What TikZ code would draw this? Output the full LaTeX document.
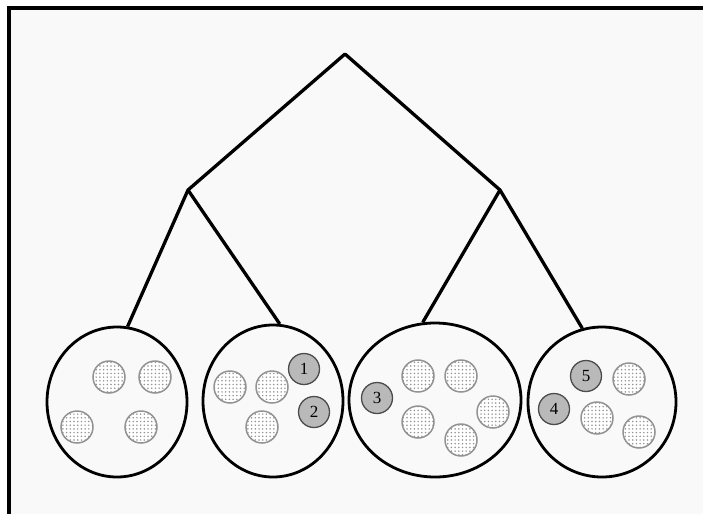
\documentclass[tikz,border=0pt]{standalone}
\usepackage{fontspec}
\setmainfont{Liberation Serif}
\usetikzlibrary{shapes.geometric,patterns.meta}

\tikzset{
  branch/.style={line width=3.3pt,line join=round},
  bucket/.style={ellipse,draw,line width=2.8pt,inner sep=0pt},
  item/.style={circle,draw=gray!85,line width=1.5pt,minimum size=32pt,inner sep=0pt,
    preaction={fill=white},pattern={Dots[radius=0.85pt,distance=3.7pt]},pattern color=gray!85},
  hit/.style={circle,draw=black!70,line width=1.3pt,fill=gray!55,minimum size=31pt,
    inner sep=0pt,font=\fontsize{17}{17}\selectfont},
}

\begin{document}
\begin{tikzpicture}[x=1pt,y=-1pt]
	% page and frame
	\fill[white] (0,0) rectangle (703,514);
	\fill[gray!5] (9,8) rectangle (703,514);
	\useasboundingbox (0,0) rectangle (703,514);
	\draw[line width=4pt] (9,514) -- (9,8) -- (703,8);

	% the four buckets
	\node[bucket,minimum width=140pt,minimum height=150pt] (b1) at (117,402) {};
	\node[bucket,minimum width=140pt,minimum height=152pt] (b2) at (273,401) {};
	\node[bucket,minimum width=172pt,minimum height=154pt] (b3) at (435,400) {};
	\node[bucket,minimum width=148pt,minimum height=150pt] (b4) at (602,402) {};

	% tree
	\coordinate (root) at (345,54);
	\coordinate (left) at (188,190);
	\coordinate (right) at (500,190);
	\draw[branch] (b1.82) -- (left) -- (root) -- (right) -- (b4.105);
	\draw[branch] (b2.85) -- (left);
	\draw[branch] (b3.99) -- (right);

	% contents of bucket 1
	\node[item] (b1a) at (109,377) {};
	\node[item] (b1b) at (155,377) {};
	\node[item] (b1c) at (77,427) {};
	\node[item] (b1d) at (141,427) {};

	% contents of bucket 2
	\node[item] (b2a) at (230,387) {};
	\node[item] (b2b) at (272,387) {};
	\node[item] (b2c) at (262,427) {};
	\node[hit] (h1) at (304,369) {1};
	\node[hit] (h2) at (314,412) {2};

	% contents of bucket 3
	\node[hit] (h3) at (377,398) {3};
	\node[item] (b3a) at (418,376) {};
	\node[item] (b3b) at (461,376) {};
	\node[item] (b3c) at (418,422) {};
	\node[item] (b3d) at (493,412) {};
	\node[item] (b3e) at (461,440) {};

	% contents of bucket 4
	\node[hit] (h5) at (586,376) {5};
	\node[item] (b4a) at (629,379) {};
	\node[hit] (h4) at (554,409) {4};
	\node[item] (b4b) at (597,418) {};
	\node[item] (b4c) at (639,432) {};
\end{tikzpicture}
\end{document}
